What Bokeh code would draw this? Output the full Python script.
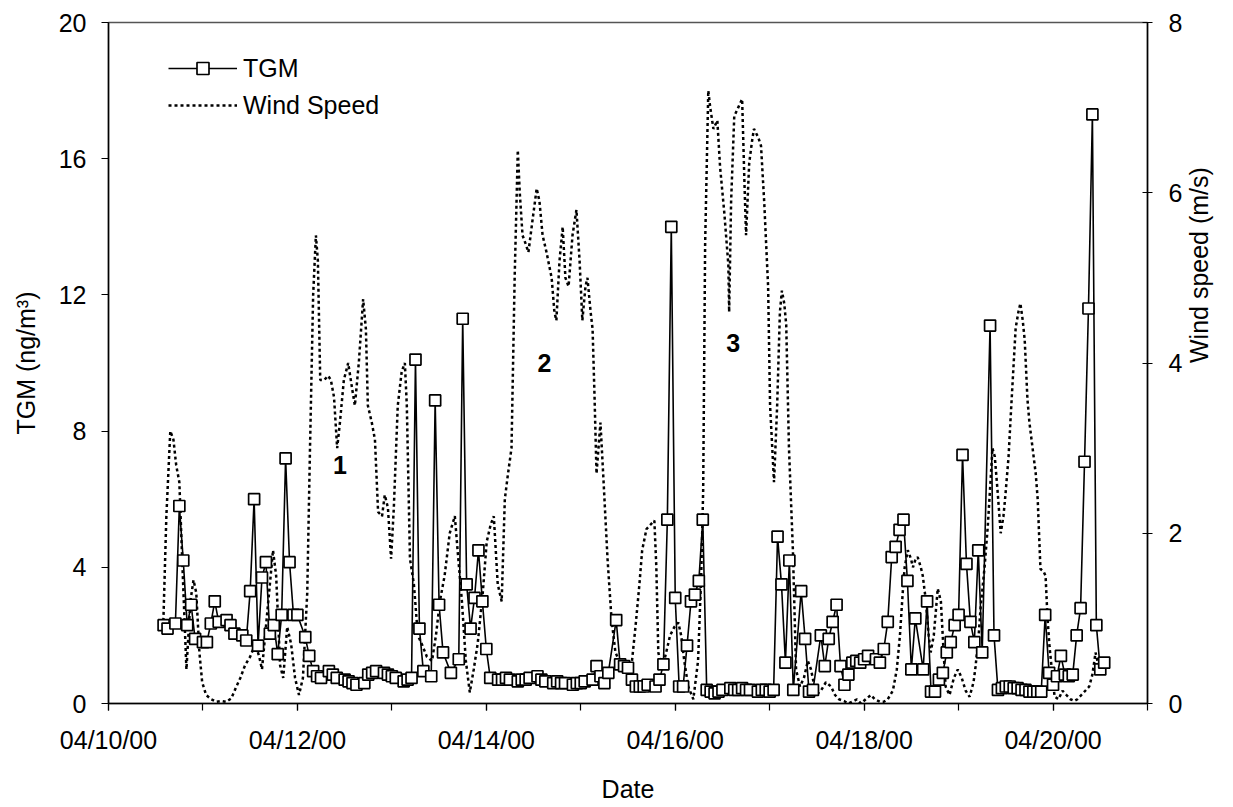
import math
import pandas as pd
from bokeh.plotting import figure
from bokeh.models import (ColumnDataSource, Range1d, LinearAxis, FixedTicker,
                          DatetimeTickFormatter, Legend, LegendItem, Label)
from bokeh.embed import file_html
from bokeh.resources import INLINE

FONT = "Liberation Sans"
start = pd.Timestamp("2000-04-10 00:00")

# TGM (ng/m3), hours after 04/10/00 00:00
tgm_hours = [14, 15, 17, 18, 19, 20, 21, 22, 24, 25,
             26, 27, 28, 30, 31, 32, 34, 35, 36, 37,
             38, 39, 40, 41, 42, 43, 44, 45, 46, 47,
             48, 50, 51, 52, 53, 54, 56, 57, 58, 60,
             61, 62, 63, 65, 66, 67, 68, 70, 71, 72,
             73, 75, 76, 77, 78, 79, 80, 82, 83, 84,
             85, 87, 89, 90, 91, 92, 93, 94, 95, 96,
             97, 99, 100, 101, 102, 104, 105, 106, 107, 109,
             110, 111, 113, 114, 115, 116, 118, 119, 120, 121,
             123, 124, 125, 126, 127, 129, 130, 131, 132, 133,
             134, 135, 136, 137, 139, 140, 141, 142, 143, 144,
             145, 146, 147, 148, 149, 150, 151, 152, 153, 154,
             155, 156, 158, 159, 160, 161, 162, 163, 165, 166,
             167, 168, 169, 170, 171, 172, 173, 174, 176, 177,
             178, 179, 181, 182, 183, 184, 185, 186, 187, 188,
             189, 190, 191, 192, 193, 195, 196, 197, 198, 199,
             200, 201, 202, 203, 204, 205, 207, 208, 209, 210,
             211, 212, 213, 214, 215, 216, 217, 218, 219, 220,
             221, 222, 224, 225, 226, 227, 228, 229, 230, 231,
             232, 233, 234, 235, 236, 237, 238, 239, 240, 241,
             242, 243, 244, 245, 246, 247, 248, 249, 250, 251,
             252, 253]
tgm_values = [2.3, 2.2, 2.35, 5.8, 4.2, 2.3, 2.9, 1.9, 1.8, 1.8,
              2.35, 3.0, 2.4, 2.45, 2.3, 2.05, 2.0, 1.85, 3.3, 6.0,
              1.7, 3.7, 4.15, 2.05, 2.3, 1.45, 2.6, 7.2, 4.15, 2.6,
              2.6, 1.95, 1.4, 0.95, 0.8, 0.75, 0.95, 0.85, 0.75, 0.7,
              0.65, 0.6, 0.55, 0.6, 0.85, 0.9, 0.95, 0.9, 0.85, 0.8,
              0.75, 0.65, 0.7, 0.75, 10.1, 2.2, 0.95, 0.8, 8.9, 2.9,
              1.5, 0.9, 1.3, 11.3, 3.5, 2.2, 3.1, 4.5, 3.0, 1.6,
              0.75, 0.7, 0.7, 0.75, 0.7, 0.65, 0.7, 0.7, 0.75, 0.8,
              0.7, 0.65, 0.6, 0.65, 0.6, 0.6, 0.55, 0.6, 0.6, 0.65,
              0.7, 1.1, 0.8, 0.6, 0.9, 2.45, 1.15, 1.1, 1.05, 0.7,
              0.5, 0.5, 0.5, 0.55, 0.5, 0.7, 1.15, 5.4, 14.0, 3.1,
              0.5, 0.5, 1.7, 3.0, 3.2, 3.6, 5.4, 0.4, 0.35, 0.3,
              0.35, 0.4, 0.45, 0.4, 0.4, 0.45, 0.4, 0.4, 0.35, 0.4,
              0.4, 0.35, 0.4, 4.9, 3.5, 1.2, 4.2, 0.4, 3.3, 1.9,
              0.35, 0.4, 2.0, 1.1, 1.9, 2.4, 2.9, 1.1, 0.55, 0.85,
              1.2, 1.25, 1.2, 1.3, 1.4, 1.3, 1.2, 1.6, 2.4, 4.3,
              4.6, 5.1, 5.4, 3.6, 1.0, 2.5, 1.0, 3.0, 0.35, 0.35,
              0.7, 0.9, 1.5, 1.8, 2.3, 2.6, 7.3, 4.1, 2.4, 1.8,
              4.5, 1.5, 11.1, 2.0, 0.4, 0.45, 0.5, 0.5, 0.45, 0.45,
              0.4, 0.4, 0.35, 0.35, 0.35, 0.35, 2.6, 0.9, 0.55, 0.8,
              1.4, 0.85, 0.8, 0.85, 2.0, 2.8, 7.1, 11.6, 17.3, 2.3,
              1.0, 1.2]

# wind speed (m/s), hours after 04/10/00 00:00
wind_hours = [13.9, 14.7, 15.7, 16.5, 17.2, 18.0, 18.8, 19.8, 20.8, 21.6,
              22.3, 23.1, 23.8, 24.8, 26.1, 27.4, 28.7, 29.9, 31.2, 32.5,
              33.5, 34.7, 36.0, 37.3, 38.3, 39.0, 39.8, 40.8, 41.8, 42.6,
              43.6, 44.4, 45.4, 46.4, 47.4, 48.4, 49.4, 50.5, 51.2, 52.0,
              52.7, 53.2, 53.8, 54.8, 55.8, 56.5, 57.3, 58.1, 58.8, 59.8,
              60.9, 61.9, 62.6, 63.6, 64.7, 65.4, 65.9, 66.9, 67.7, 68.5,
              69.5, 70.2, 71.0, 71.8, 72.5, 73.5, 74.5, 75.3, 75.8, 76.6,
              77.6, 78.6, 79.6, 80.9, 82.2, 83.2, 84.2, 85.4, 86.7, 88.0,
              88.7, 89.8, 90.8, 91.8, 92.8, 93.8, 95.1, 96.1, 97.1, 97.9,
              98.9, 99.9, 100.7, 101.4, 102.4, 103.2, 104.0, 104.5, 105.2, 106.0,
              106.7, 107.8, 108.8, 109.5, 110.3, 111.3, 112.6, 113.3, 113.8, 114.6,
              115.4, 116.1, 116.9, 117.9, 118.9, 119.7, 120.4, 121.2, 121.7, 122.5,
              123.0, 123.5, 124.0, 124.5, 125.0, 125.8, 126.8, 127.8, 128.8, 129.8,
              130.8, 131.8, 132.9, 133.9, 134.9, 135.6, 136.7, 137.7, 138.7, 139.2,
              139.7, 140.7, 141.7, 142.7, 143.8, 144.8, 145.5, 146.3, 147.3, 148.6,
              149.8, 150.6, 151.1, 151.6, 152.4, 152.9, 153.7, 154.7, 155.4, 156.5,
              157.5, 157.7, 158.2, 159.0, 160.0, 161.0, 161.6, 162.0, 162.8, 163.5,
              164.0, 165.1, 165.8, 166.6, 167.6, 168.1, 169.1, 169.9, 170.6, 171.1,
              171.7, 172.2, 172.9, 173.9, 174.7, 175.7, 176.7, 177.7, 178.5, 179.8,
              181.0, 182.3, 183.6, 184.6, 185.6, 186.9, 187.9, 188.9, 190.2, 191.2,
              192.4, 193.7, 194.7, 196.0, 197.0, 198.0, 199.3, 200.3, 201.1, 201.8,
              202.3, 203.1, 203.9, 204.4, 205.1, 205.6, 206.4, 206.9, 207.7, 208.4,
              208.9, 209.7, 210.7, 211.5, 212.2, 212.7, 213.7, 214.8, 215.8, 216.8,
              217.8, 218.8, 219.8, 220.3, 221.1, 221.6, 222.6, 223.4, 224.1, 224.6,
              225.2, 225.9, 226.7, 227.4, 227.9, 228.7, 229.2, 230.0, 230.5, 231.2,
              231.7, 232.3, 232.8, 233.5, 234.0, 234.8, 235.6, 236.1, 236.8, 237.6,
              238.1, 238.6, 239.1, 239.9, 240.4, 241.4, 242.4, 243.4, 244.4, 245.4,
              246.2, 247.2, 248.2, 249.2, 250.0, 250.8, 251.8, 252.5]
wind_speed = [0.9, 2.2, 3.2, 3.1, 2.8, 2.6, 1.6, 0.4, 1.2, 1.45,
              1.3, 0.6, 0.25, 0.1, 0.05, 0.02, 0.03, 0.02, 0.06, 0.2,
              0.3, 0.45, 0.55, 0.7, 0.55, 0.4, 0.8, 1.3, 1.8, 1.5,
              0.45, 0.3, 0.9, 0.7, 0.3, 0.1, 0.3, 1.3, 3.0, 4.8,
              5.5, 5.2, 3.8, 3.8, 3.85, 3.8, 3.6, 3.0, 3.3, 3.8,
              4.0, 3.7, 3.5, 4.0, 4.75, 4.4, 3.5, 3.3, 3.1, 2.25,
              2.2, 2.45, 2.3, 1.7, 2.3, 3.5, 3.9, 4.0, 3.5, 1.7,
              1.4, 0.8, 0.7, 0.55, 0.5, 0.8, 1.2, 1.5, 2.0, 2.2,
              1.8, 1.2, 0.5, 0.13, 0.4, 0.7, 1.3, 1.9, 2.1, 2.2,
              1.4, 1.2, 2.4, 2.66, 3.0, 5.0, 6.5, 6.0, 5.5, 5.4,
              5.3, 5.7, 6.05, 5.9, 5.5, 5.3, 5.0, 4.6, 4.5, 5.2,
              5.6, 5.0, 4.9, 5.5, 5.8, 5.2, 4.5, 4.9, 5.0, 4.6,
              4.4, 3.6, 2.7, 3.0, 3.3, 2.6, 1.7, 1.0, 0.6, 0.5,
              0.45, 0.4, 0.45, 0.9, 1.4, 1.8, 2.05, 2.1, 2.15, 1.6,
              0.6, 0.4, 0.6, 0.8, 0.9, 0.95, 0.8, 0.5, 0.2, 0.05,
              0.5, 1.5, 2.5, 5.4, 7.2, 7.0, 6.75, 6.85, 6.3, 5.75,
              5.15, 4.6, 5.9, 6.9, 7.0, 7.1, 6.1, 5.5, 6.35, 6.6,
              6.75, 6.65, 6.55, 5.9, 4.9, 3.5, 2.6, 3.5, 4.6, 4.85,
              4.7, 4.45, 3.0, 1.8, 0.4, 0.2, 0.3, 0.5, 0.4, 0.1,
              0.15, 0.25, 0.2, 0.1, 0.05, 0.03, 0.0, 0.02, 0.05, 0.0,
              0.05, 0.1, 0.05, 0.02, 0.02, 0.05, 0.15, 0.4, 0.8, 1.3,
              1.6, 1.8, 1.7, 1.6, 1.7, 1.72, 1.6, 1.5, 1.2, 0.8,
              0.6, 0.8, 1.35, 1.2, 0.6, 0.2, 0.1, 0.3, 0.4, 0.3,
              0.15, 0.08, 0.25, 0.43, 0.8, 1.13, 1.6, 2.07, 2.6, 3.0,
              2.9, 2.5, 2.0, 2.2, 2.45, 2.9, 3.34, 4.0, 4.41, 4.6,
              4.7, 4.5, 4.27, 3.57, 3.3, 3.0, 2.7, 2.4, 1.58, 1.55,
              1.5, 1.0, 0.67, 0.3, 0.08, 0.05, 0.15, 0.1, 0.05, 0.03,
              0.05, 0.1, 0.15, 0.2, 0.34, 0.6, 0.39, 0.5]

# period labels: text, hours after start, height on the TGM axis
periods = ["1", "2", "3"]
period_hours = [58.8, 110.8, 158.7]
period_y = [7.0, 10.0, 10.6]

tgm_ticks = [0, 4, 8, 12, 16, 20]
wind_ticks = [0, 2, 4, 6, 8]


def ms(hours):
    return (start + pd.Timedelta(hours=hours)).timestamp() * 1000


tgm_src = ColumnDataSource(data={
    "t": start + pd.to_timedelta(tgm_hours, unit="h"), "v": tgm_values})
wind_src = ColumnDataSource(data={
    "t": start + pd.to_timedelta(wind_hours, unit="h"), "v": wind_speed})

p = figure(width=1230, height=805, x_axis_type="datetime",
           x_range=Range1d(ms(0), ms(24 * 11)), y_range=Range1d(0, 20),
           output_backend="svg", toolbar_location=None,
           min_border_left=108, min_border_right=81,
           min_border_top=22, min_border_bottom=100)
p.extra_y_ranges = {"wind": Range1d(0, 8)}
p.xgrid.grid_line_color = None
p.ygrid.grid_line_color = None
p.outline_line_color = "#555555"
p.outline_line_width = 1.5

wind_r = p.line("t", "v", source=wind_src, y_range_name="wind",
                line_color="black", line_width=2.5, line_dash="3 3")
tgm_line = p.line("t", "v", source=tgm_src, line_color="black", line_width=1.6)
tgm_pts = p.scatter("t", "v", source=tgm_src, marker="square", size=11,
                    fill_color="white", line_color="black", line_width=1.7)

right = LinearAxis(y_range_name="wind", ticker=FixedTicker(ticks=wind_ticks),
                   axis_label="Wind speed (m/s)")
p.add_layout(right, "right")

p.xaxis.ticker = FixedTicker(ticks=[ms(24 * d) for d in range(0, 12, 2)],
                             minor_ticks=[ms(24 * d) for d in range(0, 12)])
fmt = "%m/%d/%y"
p.xaxis.formatter = DatetimeTickFormatter(
    milliseconds=fmt, seconds=fmt, minsec=fmt, minutes=fmt, hourmin=fmt,
    hours=fmt, days=fmt, months=fmt, years=fmt)
p.xaxis.axis_label = "Date"
p.yaxis[0].ticker = FixedTicker(ticks=tgm_ticks)
p.yaxis[0].axis_label = "TGM (ng/m\u00b3)"

for ax in p.axis:
    ax.axis_line_color = "black"
    ax.axis_line_width = 1.5
    ax.major_tick_line_color = "black"
    ax.major_tick_line_width = 1.2
    ax.minor_tick_line_color = "black"
    ax.minor_tick_line_width = 1.2
    ax.major_tick_in = 0
    ax.major_tick_out = 7
    ax.minor_tick_in = 0
    ax.minor_tick_out = 7
    ax.major_label_text_font = FONT
    ax.major_label_text_font_size = "25px"
    ax.major_label_text_color = "black"
    ax.axis_label_text_font = FONT
    ax.axis_label_text_font_size = "25px"
    ax.axis_label_text_font_style = "normal"
    ax.axis_label_text_color = "black"

p.yaxis[0].major_label_standoff = 15
p.yaxis[0].axis_label_standoff = 16
right.major_tick_in = 5
right.major_tick_out = 5
right.major_label_standoff = 16
right.axis_label_standoff = 14
right.axis_label_orientation = math.pi / 2
p.xaxis.major_label_standoff = 15
p.xaxis.axis_label_standoff = 18

for txt, h, yv in zip(periods, period_hours, period_y):
    p.add_layout(Label(x=ms(h), y=yv, text=txt, text_font=FONT,
                       text_font_size="25px", text_font_style="bold",
                       text_color="black",
                       text_align="center", text_baseline="middle"))

legend = Legend(items=[LegendItem(label="TGM", renderers=[tgm_line, tgm_pts]),
                       LegendItem(label="Wind Speed", renderers=[wind_r])],
                location=(60, 583))
legend.border_line_color = None
legend.background_fill_alpha = 0
legend.glyph_width = 69
legend.glyph_height = 30
legend.label_height = 30
legend.spacing = 7
legend.padding = 0
legend.margin = 0
legend.label_standoff = 6
legend.label_text_font = FONT
legend.label_text_font_size = "25px"
legend.label_text_color = "black"
p.add_layout(legend)

open("out.html", "w").write(file_html(p, INLINE))
